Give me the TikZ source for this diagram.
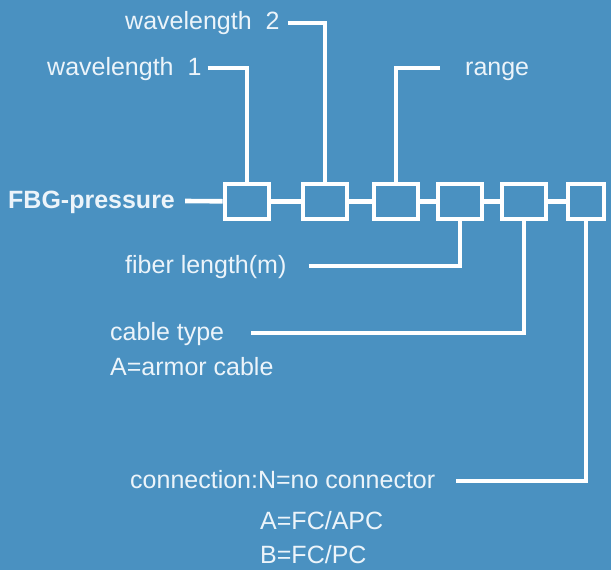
\documentclass[tikz,border=0pt]{standalone}
\usepackage{fontspec}
\setmainfont{Liberation Sans}
\usepackage{tikz}
\usetikzlibrary{calc,positioning}

\definecolor{bgblue}{RGB}{74,145,193}
\definecolor{txtwhite}{RGB}{236,244,250}

\begin{document}
\begin{tikzpicture}[x=1pt,y=-1pt,
    box/.style={draw=white,line width=4.6pt,minimum width=44pt,minimum height=35pt,inner sep=0pt},
    lbl/.style={text=txtwhite,font=\fontsize{25}{30}\selectfont,inner sep=0pt,text height=14pt,text depth=0pt,anchor=base west},
    lead/.style={draw=white,line width=4.6pt}]
    % Hintergrund
    \fill[bgblue] (0,0) rectangle (611,570);
    \useasboundingbox (0,0) rectangle (611,570);
    % Kette der Codefelder
    \node[box] (b1) at (247,201.5) {};
    \node[box] (b2) at (325,201.5) {};
    \node[box] (b3) at (396,201.5) {};
    \node[box] (b4) at (460,201.5) {};
    \node[box] (b5) at (524,201.5) {};
    \node[box,minimum width=36pt] (b6) at (586,201.5) {};
    \node[lbl,font=\fontsize{25}{30}\selectfont\bfseries] (fbg) at (8,208) {FBG-pressure};
    \draw[lead] ([xshift=10pt]fbg.east) -- (b1);
    \draw[lead] (b1) -- (b2);
    \draw[lead] (b2) -- (b3);
    \draw[lead] (b3) -- (b4);
    \draw[lead] (b4) -- (b5);
    \draw[lead] (b5) -- (b6);
    % Beschriftungen oben
    \node[lbl] (wl2) at (125,30) {wavelength\ \ 2};
    \node[lbl] (wl1) at (47,75) {wavelength\ \ 1};
    \node[lbl] (rng) at (465,75) {range};
    \draw[lead] ([xshift=8pt]wl2.east) -| (b2.north);
    \draw[lead] ([xshift=6pt]wl1.east) -| (b1.north);
    \draw[lead] (b3.north) |- ([xshift=-25pt]rng.west);
    % Beschriftungen unten
    \node[lbl] (fib) at (125,273) {fiber length(m)};
    \node[lbl] (cab) at (110,340) {cable type};
    \node[lbl] (arm) at (110,375) {A=armor cable};
    \node[lbl] (con) at (130,488) {connection:N=no connector};
    \node[lbl] (apc) at (260,529) {A=FC/APC};
    \node[lbl] (fpc) at (260,563) {B=FC/PC};
    \draw[lead] ([xshift=22pt]fib.east) -| (b4.south);
    \draw[lead] ([xshift=27pt]cab.east) -| (b5.south);
    \draw[lead] ([xshift=21pt]con.east) -| (b6.south);
\end{tikzpicture}
\end{document}
